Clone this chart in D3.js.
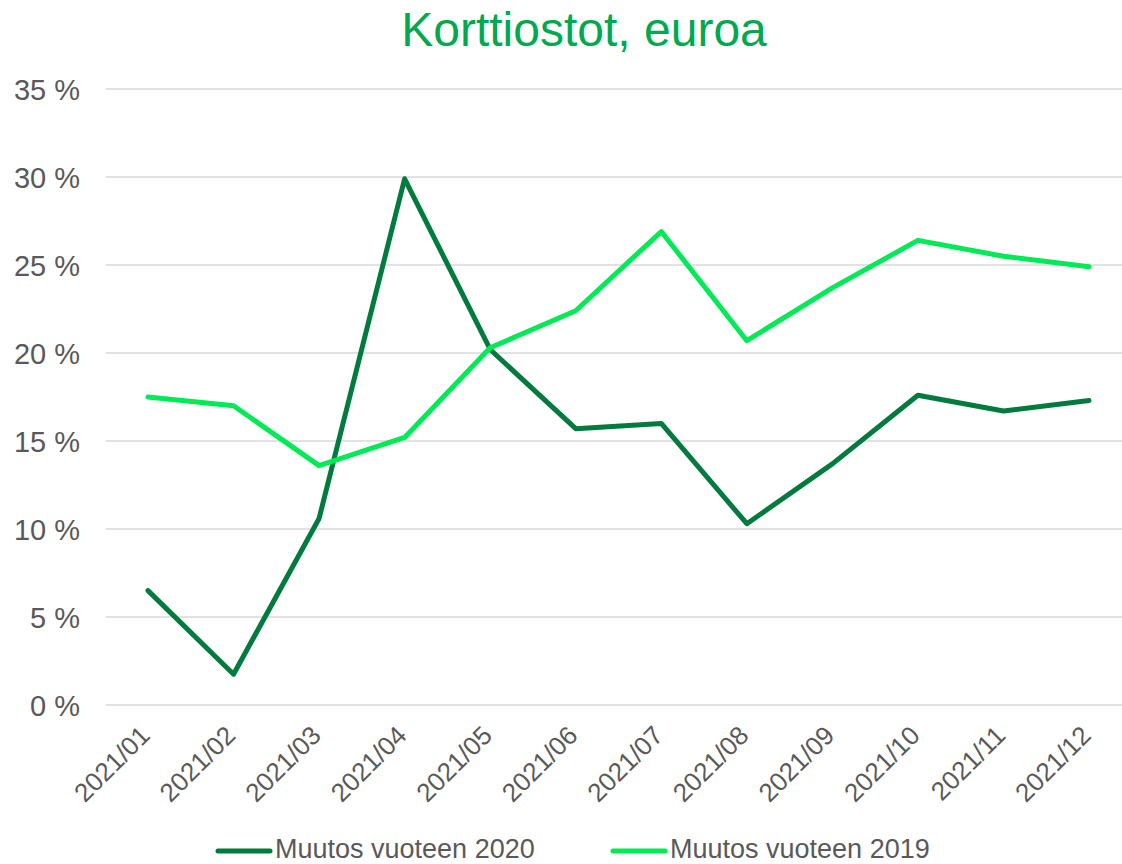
<!DOCTYPE html>
<html><head><meta charset="utf-8">
<script src="https://cdn.jsdelivr.net/npm/d3@7"></script>
<style>body{margin:0;background:#fff;}svg{display:block;font-family:"Liberation Sans",Arial,sans-serif;}</style>
</head><body><svg id="c" width="1122" height="864"></svg>
<script>
const categories = ["2021/01","2021/02","2021/03","2021/04","2021/05","2021/06","2021/07","2021/08","2021/09","2021/10","2021/11","2021/12"];
const seriesNames = ["Muutos vuoteen 2020","Muutos vuoteen 2019"];
const values2020 = [6.5,1.75,10.6,29.9,20.2,15.7,16.0,10.3,13.7,17.6,16.7,17.3];
const values2019 = [17.5,17.0,13.6,15.2,20.3,22.4,26.9,20.7,23.7,26.4,25.5,24.9];
const yTicks = [0,5,10,15,20,25,30,35];
const colors = ["#007A3D","#00EA55"];

const svg = d3.select("#c");
const x = d3.scalePoint().domain(categories).range([148, 1089]);
const y = d3.scaleLinear().domain([0,35]).range([705, 89]);

svg.append("text").attr("x",584).attr("y",46).attr("text-anchor","middle")
  .attr("font-size",48).attr("fill","#00A94F").text("Korttiostot, euroa");

const grid = svg.append("g");
grid.selectAll("line").data(yTicks).join("line")
  .attr("x1",106).attr("x2",1122).attr("y1",d=>y(d)).attr("y2",d=>y(d))
  .attr("stroke","#d9d9d9").attr("stroke-width",1.5);

const yAxis = svg.append("g").attr("transform","translate(80,0)")
  .call(d3.axisLeft(y).tickValues(yTicks).tickSize(0).tickPadding(0).tickFormat(d=>d+" %"));
yAxis.select(".domain").remove();
yAxis.selectAll("text").attr("font-size",29).attr("fill","#595959").attr("font-family","Liberation Sans, Arial, sans-serif").attr("dy","0.35em");

const xAxis = svg.append("g").attr("transform","translate(0,705)")
  .call(d3.axisBottom(x).tickSize(0).tickPadding(0));
xAxis.select(".domain").remove();
xAxis.selectAll("text").attr("font-size",26).attr("fill","#595959").attr("font-family","Liberation Sans, Arial, sans-serif")
  .attr("text-anchor","end").attr("dy",0).attr("y",0)
  .attr("transform","translate(3,32) rotate(-45)");

const line = d3.line().x((d,i)=>x(categories[i])).y(d=>y(d));
[values2020, values2019].forEach((vals,k)=>{
  svg.append("path").datum(vals).attr("d",line).attr("fill","none")
    .attr("stroke",colors[k]).attr("stroke-width",5).attr("stroke-linejoin","round").attr("stroke-linecap","round");
});

const legX = [216, 611];
seriesNames.forEach((n,k)=>{
  const g = svg.append("g").attr("transform",`translate(${legX[k]},849)`);
  g.append("line").attr("x1",2).attr("x2",54).attr("y1",2).attr("y2",2)
    .attr("stroke",colors[k]).attr("stroke-width",5).attr("stroke-linecap","round");
  g.append("text").attr("x",59).attr("y",0).attr("dy","0.33em").attr("font-size",27).attr("fill","#595959").text(n);
});
</script></body></html>
